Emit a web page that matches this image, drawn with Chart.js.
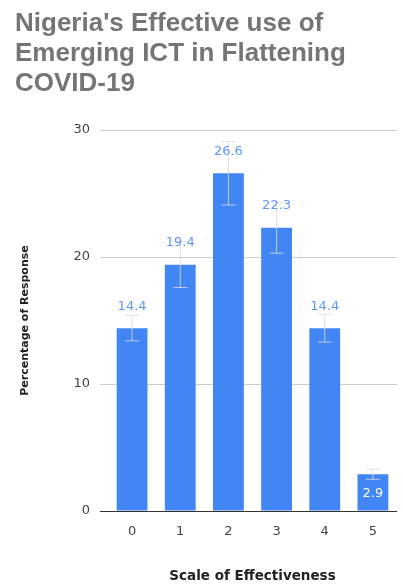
<!DOCTYPE html>
<html>
<head>
<meta charset="utf-8">
<script src="https://cdn.jsdelivr.net/npm/chart.js@4"></script>
<style>
  html, body { margin: 0; padding: 0; background: #fff; }
  #wrap { width: 403px; height: 585px; }
</style>
</head>
<body>
<div id="wrap"><canvas id="effectiveness" width="403" height="585"></canvas></div>
<script>
// Escala de 0 a 5 e percentagem de respostas
const categories = ['0', '1', '2', '3', '4', '5'];
const responses = [14.4, 19.4, 26.6, 22.3, 14.4, 2.9];
const errorMargins = [1.0, 1.8, 2.5, 2.0, 1.1, 0.4];  // barras de erro (+/-)
const yTicks = [0, 10, 20, 30];

const TITLE_FONT = "'Liberation Sans', Arial, sans-serif";
const FONT = "'DejaVu Sans', sans-serif";

// Barras de erro e rótulos de valor desenhados por cima das barras
const errorAndLabels = {
  id: 'errorAndLabels',
  afterDatasetsDraw(chart) {
    const ctx = chart.ctx;
    const y = chart.scales.y;
    const bars = chart.getDatasetMeta(0).data;
    ctx.save();
    bars.forEach((bar, i) => {
      const v = responses[i];
      const top = y.getPixelForValue(v + errorMargins[i]);
      const bottom = y.getPixelForValue(v - errorMargins[i]);
      ctx.strokeStyle = 'rgba(215, 220, 228, 0.85)';
      ctx.lineWidth = 1;
      ctx.beginPath();
      ctx.moveTo(bar.x, top);
      ctx.lineTo(bar.x, bottom);
      ctx.moveTo(bar.x - 7, top);
      ctx.lineTo(bar.x + 7, top);
      ctx.moveTo(bar.x - 7, bottom);
      ctx.lineTo(bar.x + 7, bottom);
      ctx.stroke();

      ctx.font = '13px ' + FONT;
      ctx.textAlign = 'center';
      ctx.textBaseline = 'middle';
      if (v < 5) {
        // valor pequeno: rótulo dentro da barra
        ctx.fillStyle = '#ffffff';
        ctx.fillText(v.toFixed(1), bar.x, bar.y + 19);
      } else {
        ctx.fillStyle = '#5e97f6';
        ctx.fillText(v.toFixed(1), bar.x, bar.y - 22);
      }
    });
    ctx.restore();
  }
};

const chart = new Chart(document.getElementById('effectiveness'), {
  type: 'bar',
  data: {
    labels: categories,
    datasets: [{
      data: responses,
      backgroundColor: '#4285f4',
      borderWidth: 0,
      barPercentage: 0.64,
      categoryPercentage: 1,
    }],
  },
  options: {
    responsive: false,
    animation: false,
    layout: { padding: { left: 15, right: 6, top: 0, bottom: 0 } },
    scales: {
      y: {
        min: 0,
        max: 30,
        afterBuildTicks: (scale) => { scale.ticks = yTicks.map(v => ({ value: v })); },
        afterFit: (scale) => { scale.width = 93; },
        border: { display: false },
        grid: {
          color: (c) => c.tick && c.tick.value === 0 ? '#333333' : '#cccccc',
          tickLength: 8,
        },
        ticks: {
          color: '#444',
          padding: 10,
          font: { family: FONT, size: 13 },
        },
        title: {
          display: true,
          text: 'Percentage of Response',
          color: '#222',
          font: { family: FONT, size: 11, weight: 'bold' },
          padding: { top: 4, bottom: 0 },
        },
      },
      x: {
        afterFit: (scale) => { scale.height = 74; },
        border: { display: false },
        grid: { display: false, drawTicks: false },
        ticks: {
          color: '#444',
          padding: 13,
          font: { family: FONT, size: 13 },
        },
        title: {
          display: true,
          text: 'Scale of Effectiveness',
          color: '#222',
          font: { family: FONT, size: 13.5, weight: 'bold' },
          padding: { top: 0, bottom: 0 },
        },
      },
    },
    plugins: {
      legend: { display: false },
      tooltip: { enabled: false },
      title: {
        display: true,
        align: 'start',
        text: ["Nigeria's Effective use of", 'Emerging ICT in Flattening', 'COVID-19'],
        color: '#757575',
        font: { family: TITLE_FONT, size: 26, weight: 'bold', lineHeight: 1.154 },
        padding: { top: 9, bottom: 31 },
      },
    },
  },
  plugins: [errorAndLabels],
});
</script>
</body>
</html>
